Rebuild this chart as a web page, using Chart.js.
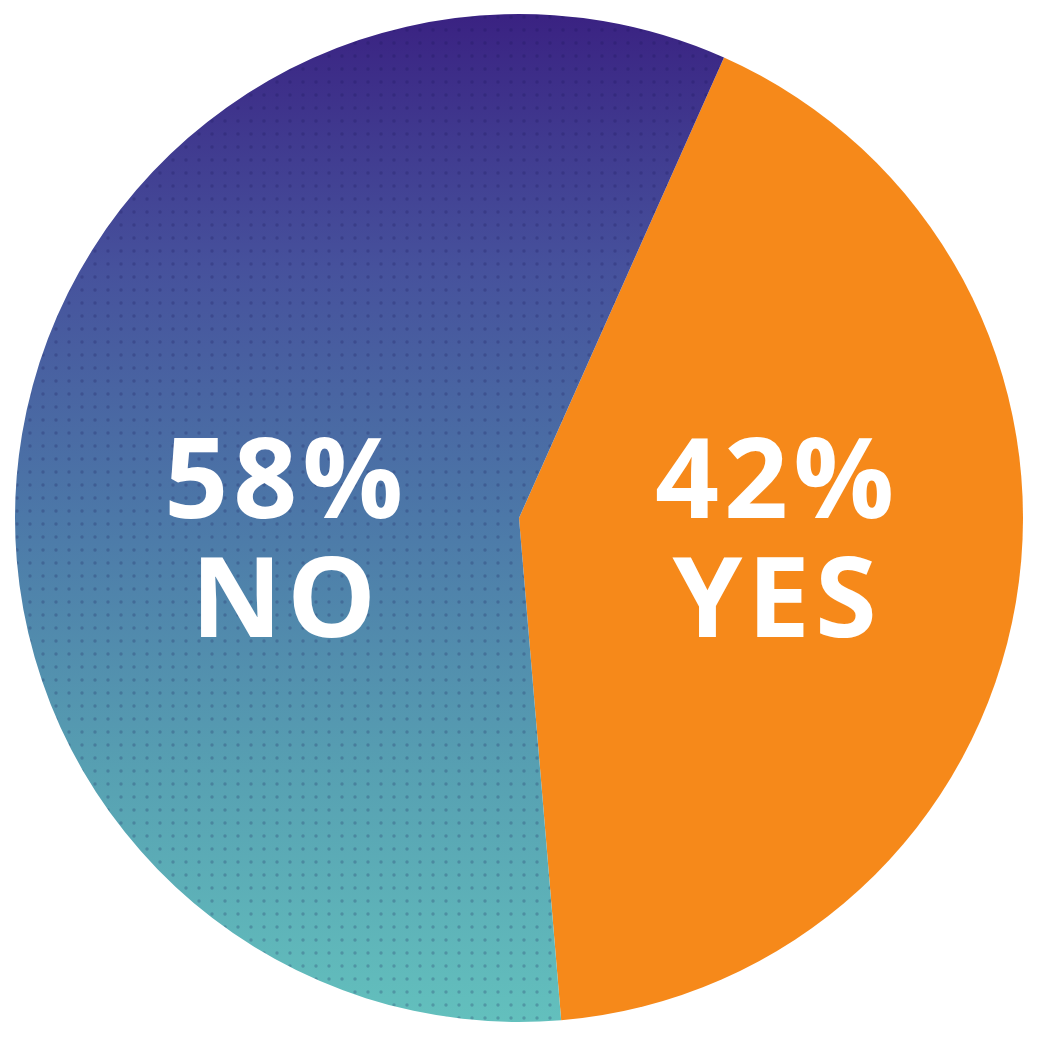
<!DOCTYPE html>
<html>
<head>
<meta charset="utf-8">
<script src="https://cdn.jsdelivr.net/npm/chart.js@4.4.1/dist/chart.umd.min.js"></script>
<style>
  html, body { margin: 0; padding: 0; background: #ffffff; }
  #wrap { width: 1040px; height: 1040px; }
</style>
</head>
<body>
<div id="wrap"><canvas id="c" width="1040" height="1040"></canvas></div>
<script>
// ---- data ----
const categories = ["YES", "NO"];
const shares = [42, 58];
const sliceColors = ["#f6891a", "gradient"];
const gradientStops = ["#3a2282", "#46519c", "#4c78a8", "#57a0b2", "#63c0bd"];

let cachedPattern = null;
let cachedKey = "";
function noFill(chart) {
  const a = chart.chartArea;
  if (!a) return "#4c78a8";
  const key = [a.left, a.top, a.right, a.bottom].join(",");
  if (cachedPattern && cachedKey === key) return cachedPattern;
  const W = chart.width, H = chart.height;
  const off = document.createElement("canvas");
  off.width = W; off.height = H;
  const o = off.getContext("2d");
  const g = o.createLinearGradient(0, a.top, 0, a.bottom);
  gradientStops.forEach((c, i) => g.addColorStop(i / (gradientStops.length - 1), c));
  o.fillStyle = g;
  o.fillRect(0, 0, W, H);
  o.fillStyle = "rgba(25,20,80,0.22)";
  const step = 13;
  for (let y = 4; y < H; y += step) {
    for (let x = 4; x < W; x += step) {
      o.beginPath();
      o.arc(x, y, 1.7, 0, Math.PI * 2);
      o.fill();
    }
  }
  cachedPattern = chart.ctx.createPattern(off, "no-repeat");
  cachedKey = key;
  return cachedPattern;
}

const labelPlugin = {
  id: "sliceLabels",
  afterDatasetsDraw(chart) {
    const meta = chart.getDatasetMeta(0);
    const arc = meta.data[0];
    if (!arc) return;
    const cx = arc.x, cy = arc.y, R = arc.outerRadius;
    const ctx = chart.ctx;
    const xFactors = [0.512, -0.462];
    ctx.save();
    ctx.fillStyle = "#ffffff";
    ctx.textAlign = "center";
    ctx.textBaseline = "alphabetic";
    ctx.font = "bold 112px 'Open Sans', sans-serif";
    try { ctx.letterSpacing = "5px"; } catch (e) {}
    categories.forEach((cat, i) => {
      const x = cx + xFactors[i] * R;
      ctx.fillText(shares[i] + "%", x, cy);
      ctx.fillText(cat, x, cy + 0.236 * R);
    });
    ctx.restore();
  }
};

new Chart(document.getElementById("c"), {
  type: "pie",
  data: {
    labels: categories,
    datasets: [{
      data: shares,
      backgroundColor: (ctx) => sliceColors[ctx.dataIndex] === "gradient" ? noFill(ctx.chart) : sliceColors[ctx.dataIndex],
      borderWidth: 0,
      hoverOffset: 0
    }]
  },
  options: {
    responsive: false,
    animation: false,
    rotation: 24,
    layout: { padding: { left: 15, right: 17, top: 14, bottom: 18 } },
    plugins: {
      legend: { display: false },
      tooltip: { enabled: false }
    },
    events: []
  },
  plugins: [labelPlugin]
});
</script>
</body>
</html>
